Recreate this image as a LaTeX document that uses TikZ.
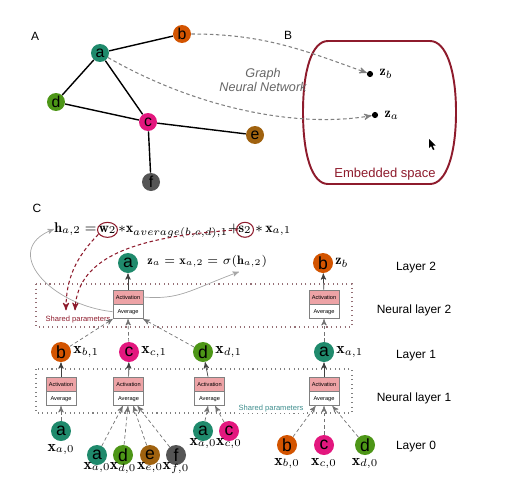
\documentclass[tikz,border=0pt]{standalone}
\usepackage{amsmath}
\usepackage{fontspec}
\newfontfamily\helv{Liberation Sans}
\usepackage{tikz}
\usetikzlibrary{arrows}
\usetikzlibrary{arrows,positioning,calc}
\definecolor{tealA}{HTML}{1F8A6C}
\definecolor{orangeB}{HTML}{D35400}
\definecolor{pinkC}{HTML}{E3177E}
\definecolor{greenD}{HTML}{4D9617}
\definecolor{brownE}{HTML}{A0620F}
\definecolor{grayF}{HTML}{555555}
\definecolor{dred}{HTML}{8E1B2C}
\definecolor{actpink}{HTML}{EDA3A6}
\definecolor{sharedteal}{HTML}{3E8E8E}
\tikzset{
  %Define standard arrow tip
  >=stealth',
  %Define style for the graph nodes
  knude/.style={
    circle,
    inner sep=0pt,
    minimum size=0.4cm,
    text=black,
    font=\helv\fontsize{10}{10}\selectfont},
  %Define style for the unit boxes
  aktiv/.style={
    rectangle,
    draw=black!50,
    fill=actpink,
    minimum width=0.6cm,
    minimum height=0.28cm,
    inner sep=0pt,
    font=\helv\fontsize{3.2}{4}\selectfont},
  snit/.style={aktiv, fill=white},
  %Define style for labels
  etiket/.style={font=\helv\fontsize{6.8}{8}\selectfont},
  formel/.style={inner sep=0pt, anchor=base west, font=\fontsize{8}{9}\selectfont},
  prik/.style={circle, fill=black, inner sep=0pt, minimum size=3.5pt},
  % Define arrow styles
  pil/.style={
    ->,
    thin,
    black!75},
  stipil/.style={
    ->,
    thin,
    black!55,
    dash pattern=on 2pt off 1.5pt},
  gbue/.style={->, thin, black!35},
  rodpil/.style={->, semithick, dred, dash pattern=on 2pt off 1.5pt},
  boks/.style={dotted, semithick}
}

\begin{document}
\begin{tikzpicture}[x=0.02cm,y=-0.02cm]
  \useasboundingbox (0,0) rectangle (509,490);

  % A: the graph
  \node[etiket] (lA) at (35,36) {A};
  \node[knude, minimum size=0.36cm, fill=tealA, font=\helv\fontsize{9}{9}\selectfont] (a) at (100,53) {a};
  \node[knude, minimum size=0.36cm, fill=orangeB, font=\helv\fontsize{9}{9}\selectfont] (b) at (182,34) {b};
  \node[knude, minimum size=0.36cm, fill=greenD, font=\helv\fontsize{9}{9}\selectfont] (d) at (56,102) {d};
  \node[knude, minimum size=0.36cm, fill=pinkC, font=\helv\fontsize{9}{9}\selectfont] (c) at (148,122) {c};
  \node[knude, minimum size=0.36cm, fill=brownE, font=\helv\fontsize{9}{9}\selectfont] (e) at (255,135) {e};
  \node[knude, minimum size=0.36cm, fill=grayF, font=\helv\fontsize{9}{9}\selectfont] (f) at (151,182) {f};
  \path[line width=0.8pt]
  (a) edge (b) edge (d) edge (c)
  (d) edge (c)
  (c) edge (e) edge (f)
  ;

  % B: the embedded space
  \node[etiket] (lB) at (288,35) {B};
  \draw[dred, line width=1.1pt] (328,41) -- (430,41)
    .. controls (446,41) and (456,70) .. (456,112)
    .. controls (456,155) and (446,184) .. (430,184) -- (328,184)
    .. controls (312,184) and (303,155) .. (303,112)
    .. controls (303,70) and (312,41) .. (328,41) -- cycle;
  \node[etiket, text=dred, font=\helv\fontsize{7.4}{8}\selectfont] (emb) at (385,174) {Embedded space};
  \node[etiket, text=black!60, align=center, font=\helv\itshape\fontsize{7.2}{8.5}\selectfont] (gnn) at (263,80) {Graph\\Neural Network};
  \node[prik] (zb) at (370,74) {};
  \node[right=0pt of zb, font=\fontsize{8}{9}\selectfont] (lzb) {$\mathbf{z}_b$};
  \node[prik] (za) at (375,115) {};
  \node[right=0pt of za, font=\fontsize{8}{9}\selectfont] (lza) {$\mathbf{z}_a$};
  \draw[stipil, black!50, semithick] (b) to[out=0,in=160] (zb);
  \draw[stipil, black!50, semithick] (a) .. controls (200,110) and (300,128) .. (za);
  \fill (429,139) -- (429,148) -- (431,146) -- (433,150) -- (434.5,149.3) -- (432.5,145.5) -- (435.5,145.5) -- cycle;

  % C: the neural layers
  \node[etiket] (lC) at (37,208) {C};
  \node[formel] (h2) at (54,232) {$\mathbf{h}_{a,2} =$};
  \node[formel, anchor=base] (w2) at (107.5,232) {$\mathbf{w}_2$};
  \node[formel] (mid) at (118,232) {${*} \mathbf{x}_{average(b,c,d),1} +$};
  \node[formel, anchor=base] (s2) at (245,232) {$\mathbf{s}_2$};
  \node[formel] (end) at (255,232) {${*}\, \mathbf{x}_{a,1}$};
  \draw[dred, semithick] (w2.center) ellipse [x radius=10, y radius=7.5];
  \draw[dred, semithick] (s2.center) ellipse [x radius=8.5, y radius=7.5];

  \node[knude, fill=tealA] (a2) at (128,263) {a};
  \node[formel, anchor=west, font=\fontsize{7}{8}\selectfont] (zeq) at (147,263) {$\mathbf{z}_a = \mathbf{x}_{a,2} = {}$};
  \node[formel, font=\fontsize{7}{8}\selectfont] (sig) at (zeq.base east) {$\sigma(\mathbf{h}_{a,2})$};
  \node[knude, fill=orangeB] (b2) at (323,263) {b};
  \node[formel, anchor=west] (lb2) at (335,263) {$\mathbf{z}_b$};
  \node[etiket] (ly2) at (416,268) {Layer 2};

  \draw[boks, black!45!dred!60] (36,284) rectangle (352,327);
  \node[etiket] (nl2) at (414,310) {Neural layer 2};
  \node[aktiv] (act2a) at (128,297) {Activation};
  \node[snit, below=0pt of act2a] (avg2a) {Average};
  \node[aktiv] (act2b) at (324,297) {Activation};
  \node[snit, below=0pt of act2b] (avg2b) {Average};
  \node[etiket, text=dred, font=\helv\fontsize{4.3}{5}\selectfont] (sp2) at (78,320) {Shared parameters};

  \draw[pil] (act2a) -- (a2);
  \draw[pil] (act2b) -- (b2);
  \draw[gbue] (avg2a.west) .. controls (50,305) and (0,250) .. (h2.west);
  \draw[gbue] (act2a.east) .. controls (180,300) and (190,290) .. ($(sig.south)+(-6,4)$);
  \draw[rodpil] (w2.south west) .. controls (75,258) and (66,280) .. ($(sp2.north)+(-12,0)$);
  \draw[rodpil] (s2.west) .. controls (140,236) and (78,255) .. ($(sp2.north)+(-3,0)$);

  % layer 1
  \node[knude, fill=orangeB] (b1) at (61,352) {b};
  \node[right=0pt of b1, inner sep=1pt, font=\fontsize{9}{10}\selectfont] (lb1) {$\mathbf{x}_{b,1}$};
  \node[knude, fill=pinkC] (c1) at (129,352) {c};
  \node[right=0pt of c1, inner sep=1pt, font=\fontsize{9}{10}\selectfont] (lc1) {$\mathbf{x}_{c,1}$};
  \node[knude, fill=greenD] (d1) at (203,352) {d};
  \node[right=0pt of d1, inner sep=1pt, font=\fontsize{9}{10}\selectfont] (ld1) {$\mathbf{x}_{d,1}$};
  \node[knude, fill=tealA] (a1) at (324,352) {a};
  \node[right=0pt of a1, inner sep=1pt, font=\fontsize{9}{10}\selectfont] (la1) {$\mathbf{x}_{a,1}$};
  \node[etiket] (ly1) at (416,356) {Layer 1};

  \draw[stipil] (b1) -- (avg2a.south west);
  \draw[stipil] (c1) -- (avg2a.south);
  \draw[stipil] (d1) -- (avg2a.south east);
  \draw[stipil] (a1) -- (avg2b);

  \draw[boks, black!50] (36,369) rectangle (352,413);
  \node[etiket] (nl1) at (414,398) {Neural layer 1};
  \node[aktiv] (act1b) at (61,384) {Activation};
  \node[snit, below=0pt of act1b] (avg1b) {Average};
  \node[aktiv] (act1c) at (128.5,384) {Activation};
  \node[snit, below=0pt of act1c] (avg1c) {Average};
  \node[aktiv] (act1d) at (209.5,384) {Activation};
  \node[snit, below=0pt of act1d] (avg1d) {Average};
  \node[aktiv] (act1a) at (324,384) {Activation};
  \node[snit, below=0pt of act1a] (avg1a) {Average};
  \node[etiket, text=sharedteal, fill=white, inner sep=0.5pt, font=\helv\fontsize{4.3}{5}\selectfont] (sp1) at (271,409) {Shared parameters};

  \draw[pil] (act1b) -- (b1);
  \draw[pil] (act1c) -- (c1);
  \draw[pil] (act1d) -- (d1);
  \draw[pil] (act1a) -- (a1);

  % layer 0
  \node[knude, fill=tealA] (a0) at (61,431) {a};
  \node[below=-2pt of a0, font=\fontsize{9}{10}\selectfont] (la0) {$\mathbf{x}_{a,0}$};
  \node[knude, fill=tealA] (a0c) at (97,455) {a};
  \node[below=-2pt of a0c, inner sep=0pt, font=\fontsize{9}{10}\selectfont] (la0c) {$\mathbf{x}_{a,0}$};
  \node[knude, fill=greenD] (d0c) at (123,455) {d};
  \node[below=-2pt of d0c, inner sep=0pt, font=\fontsize{9}{10}\selectfont] (ld0c) {$\mathbf{x}_{d,0}$};
  \node[knude, fill=brownE] (e0c) at (150,455) {e};
  \node[below=-2pt of e0c, inner sep=0pt, font=\fontsize{9}{10}\selectfont] (le0c) {$\mathbf{x}_{e,0}$};
  \node[knude, fill=grayF] (f0c) at (176,455) {f};
  \node[below=-2pt of f0c, inner sep=0pt, font=\fontsize{9}{10}\selectfont] (lf0c) {$\mathbf{x}_{f,0}$};
  \node[knude, fill=tealA] (a0d) at (203,431) {a};
  \node[below=-2pt of a0d, inner sep=0pt, font=\fontsize{9}{10}\selectfont] (la0d) {$\mathbf{x}_{a,0}$};
  \node[knude, fill=pinkC] (c0d) at (229,431) {c};
  \node[below=-2pt of c0d, inner sep=0pt, font=\fontsize{9}{10}\selectfont] (lc0d) {$\mathbf{x}_{c,0}$};
  \node[knude, fill=orangeB] (b0a) at (287,445) {b};
  \node[below=-2pt of b0a, font=\fontsize{9}{10}\selectfont] (lb0a) {$\mathbf{x}_{b,0}$};
  \node[knude, fill=pinkC] (c0a) at (324,445) {c};
  \node[below=-2pt of c0a, font=\fontsize{9}{10}\selectfont] (lc0a) {$\mathbf{x}_{c,0}$};
  \node[knude, fill=greenD] (d0a) at (365,445) {d};
  \node[below=-2pt of d0a, font=\fontsize{9}{10}\selectfont] (ld0a) {$\mathbf{x}_{d,0}$};
  \node[etiket] (ly0) at (416,447) {Layer 0};

  \draw[stipil] (a0) -- (avg1b);
  \draw[stipil] (a0c) -- (avg1c.-128);
  \draw[stipil] (d0c) -- (avg1c.-94);
  \draw[stipil] (e0c) -- (avg1c.-57);
  \draw[stipil] (f0c) -- (avg1c.-39);
  \draw[stipil] (a0d) -- (avg1d.-102);
  \draw[stipil] (c0d) -- (avg1d.-52);
  \draw[stipil] (b0a) -- (avg1a.-139);
  \draw[stipil] (c0a) -- (avg1a);
  \draw[stipil] (d0a) -- (avg1a.-41);
\end{tikzpicture}
\end{document}
